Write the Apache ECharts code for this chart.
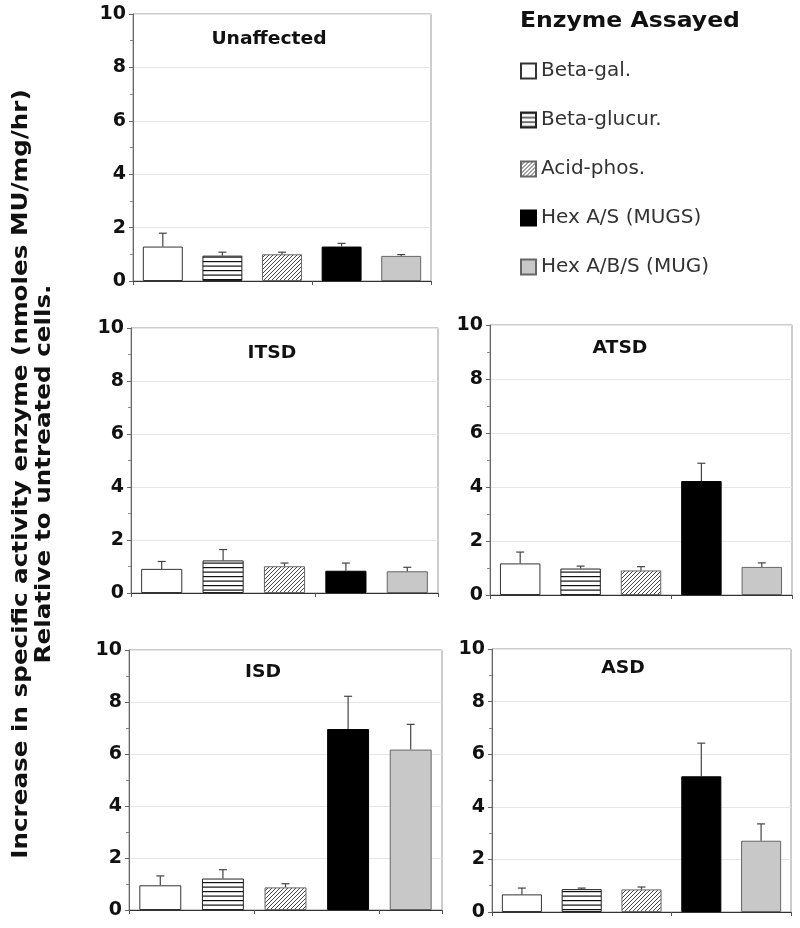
<!DOCTYPE html>
<html>
<head>
<meta charset="utf-8">
<script src="https://cdn.jsdelivr.net/npm/echarts@6/dist/echarts.min.js"></script>
<style>html,body{margin:0;padding:0;background:#fff}#c{width:800px;height:928px}</style>
</head>
<body>
<div id="c"></div>
<script>
const enzymes = ['Beta-gal.', 'Beta-glucur.', 'Acid-phos.', 'Hex A/S (MUGS)', 'Hex A/B/S (MUG)'];
const panelNames = ['Unaffected', 'ITSD', 'ATSD', 'ISD', 'ASD'];
const yTicks = [0, 2, 4, 6, 8, 10];

const unaffectedMean = [1.29, 0.95, 1.00, 1.29, 0.94];
const unaffectedSD   = [0.50, 0.13, 0.08, 0.12, 0.05];
const itsdMean = [0.91, 1.23, 1.01, 0.84, 0.82];
const itsdSD   = [0.28, 0.41, 0.12, 0.29, 0.15];
const atsdMean = [1.17, 0.98, 0.91, 4.22, 1.04];
const atsdSD   = [0.42, 0.09, 0.14, 0.66, 0.15];
const isdMean = [0.95, 1.21, 0.87, 6.96, 6.17];
const isdSD   = [0.36, 0.34, 0.14, 1.26, 0.97];
const asdMean = [0.67, 0.87, 0.86, 5.16, 2.71];
const asdSD   = [0.24, 0.04, 0.09, 1.26, 0.64];

const means = [unaffectedMean, itsdMean, atsdMean, isdMean, asdMean];
const sds = [unaffectedSD, itsdSD, atsdSD, isdSD, asdSD];

// layout (pixels)
const grids = [
  {left: 133, top: 14, width: 298, height: 267},
  {left: 131, top: 328, width: 307, height: 265},
  {left: 490, top: 325, width: 302, height: 270},
  {left: 129, top: 650, width: 313, height: 260},
  {left: 492, top: 649, width: 299, height: 263}
];
const titlePos = [[269, 39], [272, 353], [620, 348], [263, 672], [623, 668]];

function stripePattern() {
  const c = document.createElement('canvas');
  c.width = 8; c.height = 9;
  const g = c.getContext('2d');
  g.fillStyle = '#fff'; g.fillRect(0, 0, 8, 9);
  g.fillStyle = '#111';
  g.fillRect(0, 0, 8, 1.2);
  g.fillRect(0, 4.5, 8, 1.2);
  return {image: c, repeat: 'repeat'};
}
function hatchPattern() {
  const c = document.createElement('canvas');
  c.width = 4; c.height = 4;
  const g = c.getContext('2d');
  g.fillStyle = '#fff'; g.fillRect(0, 0, 4, 4);
  g.strokeStyle = '#444'; g.lineWidth = 1;
  g.beginPath();
  g.moveTo(-1, 5); g.lineTo(5, -1);
  g.moveTo(-1, 1); g.lineTo(1, -1);
  g.moveTo(3, 5); g.lineTo(5, 3);
  g.stroke();
  return {image: c, repeat: 'repeat'};
}

const styles = [
  {color: '#ffffff', borderColor: '#333', borderWidth: 1},
  {color: stripePattern(), borderColor: '#222', borderWidth: 1},
  {color: hatchPattern(), borderColor: '#666', borderWidth: 1},
  {color: '#000000', borderColor: '#000', borderWidth: 1},
  {color: '#c8c8c8', borderColor: '#666', borderWidth: 1}
];

const option = {
  animation: false,
  backgroundColor: '#fff',
  legend: {
    data: enzymes,
    orient: 'vertical',
    left: 515,
    top: 56,
    itemWidth: 15,
    itemHeight: 15,
    itemGap: 29,
    icon: 'rect',
    textStyle: {fontFamily: 'DejaVu Sans', fontSize: 20, color: '#333', lineHeight: 20},
    selectedMode: false
  },
  grid: [],
  xAxis: [],
  yAxis: [],
  series: [],
  graphic: []
};

grids.forEach((g, i) => {
  option.grid.push(Object.assign({show: true, borderColor: '#999', borderWidth: 1, containLabel: false}, g));
  option.xAxis.push({
    type: 'category', gridIndex: i, data: enzymes, boundaryGap: true,
    axisLine: {lineStyle: {color: '#333', width: 1}},
    axisTick: {show: true, alignWithLabel: false, length: 4, lineStyle: {color: '#555'}},
    axisLabel: {show: false},
    splitLine: {show: false}
  });
  option.yAxis.push({
    type: 'value', gridIndex: i, min: 0, max: 10, interval: 2,
    axisLine: {show: true, lineStyle: {color: '#666', width: 1}},
    axisTick: {show: true, length: 4, lineStyle: {color: '#666'}},
    minorTick: {show: true, splitNumber: 2, length: 3, lineStyle: {color: '#888'}},
    axisLabel: {fontFamily: 'DejaVu Sans', fontWeight: 'bold', fontSize: 19, color: '#111', margin: 7,
      formatter: v => yTicks.includes(v) ? String(v) : ''},
    splitLine: {show: true, lineStyle: {color: '#e6e6e6', width: 1}}
  });
  enzymes.forEach((name, j) => {
    option.series.push({
      type: 'bar', name: name, xAxisIndex: i, yAxisIndex: i,
      barWidth: '67%', barGap: '-100%',
      itemStyle: styles[j],
      data: means[i].map((v, k) => k === j ? v : '-'),
      z: 2
    });
  });
  option.series.push({
    type: 'custom', name: 'err' + i, xAxisIndex: i, yAxisIndex: i, z: 3,
    data: means[i].map((v, k) => [enzymes[k], v, sds[i][k]]),
    renderItem: function (params, api) {
      const x = api.value(0), m = api.value(1), e = api.value(2);
      const p0 = api.coord([x, m]);
      const p1 = api.coord([x, m + e]);
      const st = {stroke: '#444', lineWidth: 1.2};
      return {
        type: 'group',
        children: [
          {type: 'line', shape: {x1: p0[0], y1: p0[1], x2: p1[0], y2: p1[1]}, style: st},
          {type: 'line', shape: {x1: p1[0] - 4, y1: p1[1], x2: p1[0] + 4, y2: p1[1]}, style: st}
        ]
      };
    }
  });
  option.graphic.push({
    type: 'text', x: titlePos[i][0], y: titlePos[i][1], z: 10, scaleX: 1.04,
    style: {text: panelNames[i], fontFamily: 'DejaVu Sans', fontWeight: 'bold', fontSize: 18,
      fill: '#111', textAlign: 'center', textVerticalAlign: 'middle'}
  });
});

option.graphic.push({
  type: 'text', x: 520, y: 22, z: 10, scaleX: 1.12,
  style: {text: 'Enzyme Assayed', fontFamily: 'DejaVu Sans', fontWeight: 'bold', fontSize: 21,
    fill: '#111', textAlign: 'left', textVerticalAlign: 'middle'}
});
option.graphic.push({
  type: 'text', x: 21, y: 474, rotation: Math.PI / 2, scaleX: 1.12, z: 10,
  style: {text: 'Increase in specific activity enzyme (nmoles MU/mg/hr)', fontFamily: 'DejaVu Sans',
    fontWeight: 'bold', fontSize: 22, fill: '#111', textAlign: 'center', textVerticalAlign: 'middle'}
});
option.graphic.push({
  type: 'text', x: 44, y: 474, rotation: Math.PI / 2, scaleX: 1.12, z: 10,
  style: {text: 'Relative to untreated cells.', fontFamily: 'DejaVu Sans',
    fontWeight: 'bold', fontSize: 22, fill: '#111', textAlign: 'center', textVerticalAlign: 'middle'}
});

const chart = echarts.init(document.getElementById('c'), null, {renderer: 'canvas'});
chart.setOption(option);
</script>
</body>
</html>
